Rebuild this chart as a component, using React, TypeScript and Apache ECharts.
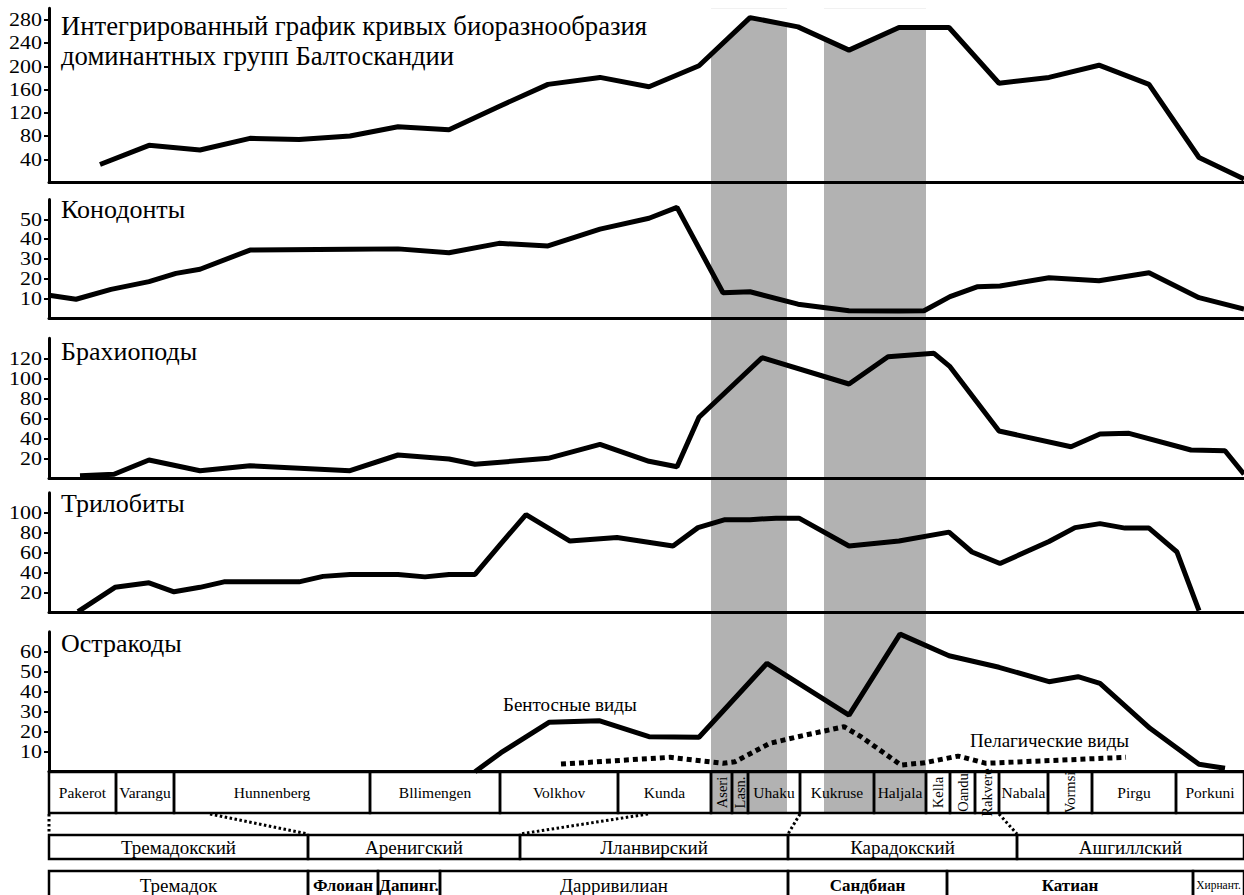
import React, { useEffect, useRef } from 'react';
import * as echarts from 'echarts';

// x: relative stratigraphic position (0 = base of Pakerot, 1195 = top of Porkuni)
const X_MAX = 1195;

const integrated: [number, number][] = [
  [51, 31], [100, 64], [151, 56], [201, 76], [250, 74], [301, 80], [349, 96], [400, 91],
  [450, 131], [499, 169], [551, 181], [600, 165], [650, 201], [701, 284], [749, 268],
  [800, 228], [850, 267], [900, 267], [950, 171], [1000, 181], [1050, 202], [1100, 169],
  [1150, 43], [1195, 6],
];
const conodonts: [number, number][] = [
  [0, 11.5], [27, 9.5], [62, 14.5], [100, 18.4], [127, 22.6], [151, 24.7], [201, 34.4],
  [301, 34.8], [349, 35], [400, 33], [450, 37.8], [499, 36.5], [551, 45], [600, 50.5],
  [628, 56], [674, 12.8], [701, 13.3], [749, 7], [800, 3.7], [850, 3.5], [875, 3.7],
  [901, 10.8], [928, 15.8], [951, 16.2], [1000, 20.4], [1050, 18.9], [1100, 22.9],
  [1150, 10.3], [1195, 4.5],
];
const brachiopods: [number, number][] = [
  [31, 2.5], [65, 4], [100, 18.3], [125, 13], [151, 7.5], [201, 12.6], [301, 7.6],
  [349, 23.3], [400, 19.3], [426, 14], [499, 20], [551, 34], [600, 17], [628, 11.6],
  [650, 61], [713, 120.6], [800, 94.3], [839, 121.6], [885, 125], [901, 111.6],
  [950, 47.3], [1022, 31.6], [1051, 44.3], [1080, 45], [1142, 28.3], [1176, 27.6],
  [1195, 4],
];
const trilobites: [number, number][] = [
  [29, 0.5], [66, 25], [100, 29.5], [125, 20.5], [151, 25], [175, 30.5], [250, 30.5],
  [274, 36], [301, 38], [349, 38], [376, 35.5], [400, 38], [426, 38], [452, 69],
  [477, 98], [521, 71.5], [568, 75], [624, 66.5], [649, 85], [676, 93], [701, 93],
  [727, 94.5], [750, 94.5], [800, 66.5], [850, 71.5], [900, 80.5], [923, 60.5],
  [951, 49], [1000, 71], [1026, 85], [1051, 89], [1076, 84.5], [1100, 84.5],
  [1128, 60.5], [1150, 1.5],
];
const ostracodsBenthic: [number, number][] = [
  [426, 0], [452, 9.5], [500, 24.7], [550, 25.5], [600, 17.5], [650, 17.2], [718, 54.2],
  [800, 28.3], [851, 68.8], [900, 58], [950, 52.2], [1000, 45], [1029, 47.5],
  [1051, 44.2], [1101, 21.7], [1150, 3.7], [1176, 1.7],
];
const ostracodsPelagic: [number, number][] = [
  [512, 3.8], [621, 7.2], [674, 4.2], [686, 5], [721, 14.2], [749, 17.5], [795, 22.5],
  [812, 17.5], [852, 3.3], [876, 4.5], [909, 7.8], [937, 4.2], [1077, 7.2],
];

const mainTitle = ['Интегрированный график кривых биоразнообразия', 'доминантных групп Балтоскандии'];
const panelTitles = ['Конодонты', 'Брахиоподы', 'Трилобиты', 'Остракоды'];
const benthicLabel = 'Бентосные виды';
const pelagicLabel = 'Пелагические виды';

const yTicks1 = [40, 80, 120, 160, 200, 240, 280];
const yTicks2 = [10, 20, 30, 40, 50];
const yTicks3 = [20, 40, 60, 80, 100, 120];
const yTicks4 = [20, 40, 60, 80, 100];
const yTicks5 = [10, 20, 30, 40, 50, 60];
const yMaxes = [300, 60, 140, 120, 70];

const regionalStages = ['Pakerot', 'Varangu', 'Hunnenberg', 'Bllimengen', 'Volkhov', 'Kunda', 'Aseri', 'Lasn.', 'Uhaku', 'Kukruse', 'Haljala', 'Kella', 'Oandu', 'Rakvere', 'Nabala', 'Vormsi', 'Pirgu', 'Porkuni'];
const regionalEdges = [0, 67, 125, 321, 451, 569, 662, 683, 699, 751, 825, 877, 901, 926, 950, 999, 1043, 1127, 1195];
const verticalStages = ['Aseri', 'Lasn.', 'Kella', 'Oandu', 'Rakvere', 'Vormsi'];

const britishSeries = ['Тремадокский', 'Аренигский', 'Лланвирский', 'Карадокский', 'Ашгиллский'];
const britishEdges = [0, 259, 471, 739, 968, 1195];

const globalStages = ['Тремадок', 'Флоиан', 'Дапинг.', 'Дарривилиан', 'Сандбиан', 'Катиан', 'Хирнант.'];
const globalEdges = [0, 259, 329, 391, 739, 898, 1144, 1195];
const boldStages = ['Флоиан', 'Дапинг.', 'Сандбиан', 'Катиан'];

const bands: [number, number][] = [[662, 738], [775, 877]];
const connectors: [number, number][] = [[0, 0], [161, 259], [599, 471], [751, 739], [950, 968]];

const FONT = "'Liberation Serif', serif";
const GRID_LEFT = 49;
const GRID_W = 1195;
const grids = [
  { top: 8.3, height: 174.2 },
  { top: 199.5, height: 118.5 },
  { top: 338.3, height: 140 },
  { top: 492.8, height: 119.4 },
  { top: 631.7, height: 140 },
];
const ROW1 = { y: 772, h: 41 };
const ROW2 = { y: 835, h: 24 };
const ROW3 = { y: 871, h: 30 };

const px = (v: number) => GRID_LEFT + (v / X_MAX) * GRID_W;

export default function App() {
  const ref = useRef<HTMLDivElement>(null);
  useEffect(() => {
    if (!ref.current) return;
    const chart = echarts.init(ref.current, undefined, { renderer: 'svg' });
    const tickSets = [yTicks1, yTicks2, yTicks3, yTicks4, yTicks5];
    const lineStyle = { color: '#000', width: 5 };

    chart.setOption({
      animation: false,
      backgroundColor: '#fff',
      grid: grids.map((g) => ({ left: GRID_LEFT, width: GRID_W, top: g.top, height: g.height })),
      xAxis: grids.map((_, i) => ({
        type: 'value', gridIndex: i, min: 0, max: X_MAX,
        axisLine: { show: true, onZero: false, lineStyle: { color: '#000', width: 3 } },
        axisTick: { show: false }, axisLabel: { show: false }, splitLine: { show: false },
      })),
      yAxis: grids.map((_, i) => ({
        type: 'value', gridIndex: i, min: 0, max: yMaxes[i],
        axisLine: { show: true, lineStyle: { color: '#000', width: 3 } },
        axisTick: { show: true, customValues: tickSets[i], length: 5, lineStyle: { color: '#000', width: 2 } },
        axisLabel: { show: false },
        splitLine: { show: false },
      })),
      series: [
        { type: 'line', xAxisIndex: 0, yAxisIndex: 0, data: integrated, symbol: 'none', lineStyle, areaStyle: { color: '#fff', opacity: 1, origin: 'end' } },
        { type: 'line', xAxisIndex: 1, yAxisIndex: 1, data: conodonts, symbol: 'none', lineStyle },
        { type: 'line', xAxisIndex: 2, yAxisIndex: 2, data: brachiopods, symbol: 'none', lineStyle },
        { type: 'line', xAxisIndex: 3, yAxisIndex: 3, data: trilobites, symbol: 'none', lineStyle },
        { type: 'line', xAxisIndex: 4, yAxisIndex: 4, data: ostracodsBenthic, symbol: 'none', lineStyle },
        { type: 'line', xAxisIndex: 4, yAxisIndex: 4, data: ostracodsPelagic, symbol: 'none', lineStyle: { color: '#000', width: 5, type: [5, 4], cap: 'butt' } },
      ],
    });

    const graphic: any[] = [];
    bands.forEach(([a, b]) => {
      graphic.push({
        type: 'rect', z: -1, silent: true,
        shape: { x: px(a), y: grids[0].top, width: px(b) - px(a), height: ROW1.y + ROW1.h - grids[0].top },
        style: { fill: '#b2b2b2' },
      });
    });
    const txt = (x: number, y: number, text: string, size: number, extra: any = {}) => ({
      type: 'text', z: 100, x, y, silent: true, ...extra,
      style: { text, fontFamily: FONT, fontSize: size, fill: '#000', verticalAlign: 'middle', ...(extra.style || {}) },
    });
    // y tick labels, positioned through each y axis' scale
    tickSets.forEach((ticks, i) => {
      ticks.forEach((v) => {
        const y = chart.convertToPixel({ yAxisIndex: i }, v) as number;
        graphic.push(txt(42, y, String(v), 18, { scaleX: 1.22, style: { align: 'right' } }));
      });
    });
    graphic.push(txt(61, 26, mainTitle[0], 26.7));
    graphic.push(txt(61, 56, mainTitle[1], 26.7));
    const titleY = [209, 351, 503, 643];
    panelTitles.forEach((t, i) => graphic.push(txt(61, titleY[i], t, 26)));
    graphic.push(txt(503, 704, benthicLabel, 19));
    graphic.push(txt(970, 740, pelagicLabel, 19));

    const cellStroke = { stroke: '#000', lineWidth: 2.5, fill: 'rgba(0,0,0,0)' };
    regionalStages.forEach((name, i) => {
      const x0 = px(regionalEdges[i]);
      const x1 = px(regionalEdges[i + 1]);
      graphic.push({ type: 'rect', z: 10, shape: { x: x0, y: ROW1.y, width: x1 - x0, height: ROW1.h }, style: cellStroke });
      const vertical = verticalStages.includes(name);
      graphic.push(txt((x0 + x1) / 2, ROW1.y + ROW1.h / 2, name, vertical ? 14.5 : 15.5, {
        rotation: vertical ? Math.PI / 2 : 0,
        style: { align: 'center' },
      }));
    });
    britishSeries.forEach((name, i) => {
      const x0 = px(britishEdges[i]);
      const x1 = px(britishEdges[i + 1]);
      graphic.push({ type: 'rect', z: 10, shape: { x: x0, y: ROW2.y, width: x1 - x0, height: ROW2.h }, style: cellStroke });
      graphic.push(txt((x0 + x1) / 2, ROW2.y + ROW2.h / 2, name, 19, { style: { align: 'center' } }));
    });
    globalStages.forEach((name, i) => {
      const x0 = px(globalEdges[i]);
      const x1 = px(globalEdges[i + 1]);
      graphic.push({ type: 'rect', z: 10, shape: { x: x0, y: ROW3.y, width: x1 - x0, height: ROW3.h }, style: cellStroke });
      const bold = boldStages.includes(name);
      const size = name === 'Хирнант.' ? 11.5 : bold ? 17 : 19;
      graphic.push(txt((x0 + x1) / 2, ROW3.y + 14, name, size, { style: { align: 'center', fontWeight: bold ? 'bold' : 'normal' } }));
    });
    connectors.forEach(([a, b]) => {
      graphic.push({ type: 'line', z: 10, shape: { x1: px(a), y1: ROW1.y + ROW1.h + 1, x2: px(b), y2: ROW2.y - 1 }, style: { stroke: '#000', lineWidth: 3, lineDash: [2.5, 2.5] } });
    });

    chart.setOption({ graphic });
    return () => chart.dispose();
  }, []);
  return <div ref={ref} style={{ position: 'absolute', left: 0, top: 0, width: 1244, height: 895 }} />;
}
